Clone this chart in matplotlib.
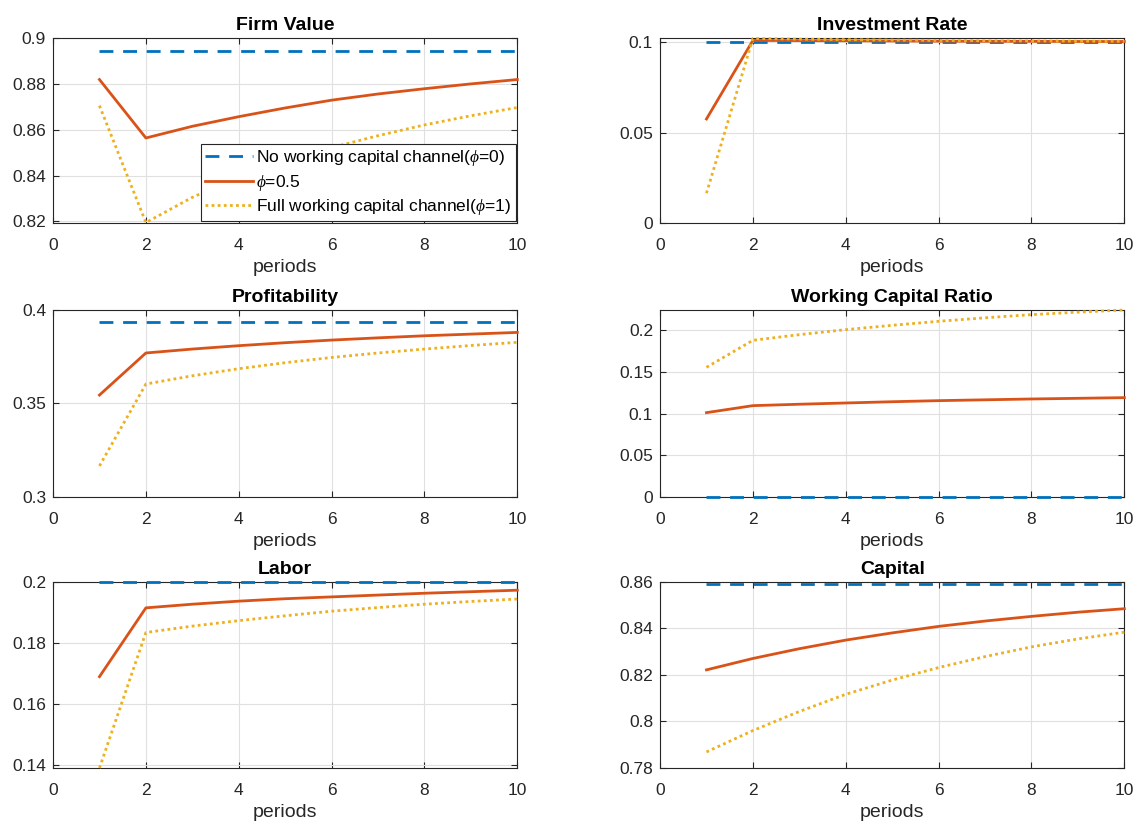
import numpy as np
import matplotlib
matplotlib.use("Agg")
import matplotlib.pyplot as plt

plt.rcParams['font.family'] = ['Liberation Sans', 'DejaVu Sans']
plt.rcParams['mathtext.fontset'] = 'custom'
plt.rcParams['mathtext.it'] = 'Liberation Serif:italic'

periods = np.arange(1, 11)

# Firm Value
firm_v0 = [0.8943] * 10
firm_v05 = [0.8819, 0.8564, 0.8615, 0.8657, 0.8695, 0.8729, 0.8756, 0.8779, 0.8800, 0.8819]
firm_v1 = [0.8705, 0.8195, 0.8305, 0.8395, 0.8462, 0.8522, 0.8574, 0.8621, 0.8661, 0.8697]

# Investment Rate
inv_v0 = [0.1000] * 10
inv_v05 = [0.0576, 0.1011, 0.1010, 0.1009, 0.1008, 0.1007, 0.1006, 0.1006, 0.1005, 0.1005]
inv_v1 = [0.0165, 0.1022, 0.1018, 0.1015, 0.1013, 0.1011, 0.1009, 0.1008, 0.1007, 0.1006]

# Profitability
prof_v0 = [0.3936] * 10
prof_v05 = [0.3545, 0.3770, 0.3791, 0.3809, 0.3825, 0.3839, 0.3851, 0.3862, 0.3871, 0.3880]
prof_v1 = [0.3166, 0.3604, 0.3648, 0.3686, 0.3718, 0.3746, 0.3770, 0.3791, 0.3810, 0.3827]

# Working Capital Ratio
wcr_v0 = [0.0] * 10
wcr_v05 = [0.1012, 0.1096, 0.1113, 0.1128, 0.1143, 0.1156, 0.1166, 0.1176, 0.1184, 0.1192]
wcr_v1 = [0.1556, 0.1880, 0.1948, 0.2008, 0.2060, 0.2108, 0.2150, 0.2188, 0.2218, 0.2244]

# Labor
lab_v0 = [0.2000] * 10
lab_v05 = [0.1689, 0.1915, 0.1927, 0.1937, 0.1945, 0.1951, 0.1957, 0.1963, 0.1968, 0.1973]
lab_v1 = [0.1389, 0.1834, 0.1855, 0.1873, 0.1889, 0.1904, 0.1916, 0.1927, 0.1936, 0.1944]

# Capital
cap_v0 = [0.8591] * 10
cap_v05 = [0.8222, 0.8271, 0.8313, 0.8350, 0.8381, 0.8409, 0.8432, 0.8452, 0.8470, 0.8485]
cap_v1 = [0.7869, 0.7961, 0.8043, 0.8117, 0.8178, 0.8232, 0.8279, 0.8321, 0.8355, 0.8384]

titles = ["Firm Value", "Investment Rate", "Profitability",
          "Working Capital Ratio", "Labor", "Capital"]
series = [(firm_v0, firm_v05, firm_v1), (inv_v0, inv_v05, inv_v1),
          (prof_v0, prof_v05, prof_v1), (wcr_v0, wcr_v05, wcr_v1),
          (lab_v0, lab_v05, lab_v1), (cap_v0, cap_v05, cap_v1)]
ylims = [(0.8193, 0.9), (0, 0.1024), (0.3, 0.4), (0, 0.2244), (0.1389, 0.2), (0.78, 0.86)]
yticks = [[0.82, 0.84, 0.86, 0.88, 0.9], [0, 0.05, 0.1], [0.3, 0.35, 0.4],
          [0, 0.05, 0.1, 0.15, 0.2], [0.14, 0.16, 0.18, 0.2], [0.78, 0.8, 0.82, 0.84, 0.86]]
yticklabels = [["0.82", "0.84", "0.86", "0.88", "0.9"], ["0", "0.05", "0.1"],
               ["0.3", "0.35", "0.4"], ["0", "0.05", "0.1", "0.15", "0.2"],
               ["0.14", "0.16", "0.18", "0.2"], ["0.78", "0.8", "0.82", "0.84", "0.86"]]

labels = ["No working capital channel($\\phi$=0)", "$\\phi$=0.5",
          "Full working capital channel($\\phi$=1)"]
colors = ["#0072BD", "#D95319", "#EDB120"]
styles = [(0, (5, 3.5)), "-", (0, (1, 1.2))]

fig = plt.figure(figsize=(11.38, 8.22), dpi=100)

lefts = [0.0466, 0.580]
bottoms = [0.7287, 0.3954, 0.0657]
heights = [0.225, 0.2275, 0.2263]
width = 0.4080

for i in range(6):
    r, c = divmod(i, 2)
    ax = fig.add_axes([lefts[c], bottoms[r], width, heights[r]])
    for j in range(3):
        ax.plot(periods, series[i][j], linestyle=styles[j], color=colors[j],
                lw=2, label=labels[j], clip_on=False, zorder=3)
    ax.set_xlim(0, 10)
    ax.set_ylim(*ylims[i])
    ax.set_xticks([0, 2, 4, 6, 8, 10])
    ax.set_yticks(yticks[i])
    ax.set_yticklabels(yticklabels[i])
    ax.grid(True, color="#e0e0e0", lw=0.8)
    ax.set_axisbelow(True)
    ax.tick_params(direction="in", top=True, right=True, labelsize=12.5,
                   colors="#262626", length=4)
    ax.tick_params(axis="x", pad=11)
    ax.tick_params(axis="y", pad=5)
    for sp in ax.spines.values():
        sp.set_color("#262626")
        sp.set_linewidth(0.8)
    ax.set_title(titles[i], fontsize=14, fontweight="bold", pad=6)
    ax.set_xlabel("periods", fontsize=14, color="#262626", labelpad=4)
    if i == 0:
        leg = ax.legend(loc="lower right", fontsize=12.5, handlelength=2.75,
                        borderaxespad=0.1, fancybox=False, framealpha=1,
                        edgecolor="#262626", borderpad=0.25, labelspacing=0.25,
                        handletextpad=0.2)
        leg.get_frame().set_linewidth(0.8)
        leg.set_zorder(5)

fig.savefig("out.png", dpi=100)
